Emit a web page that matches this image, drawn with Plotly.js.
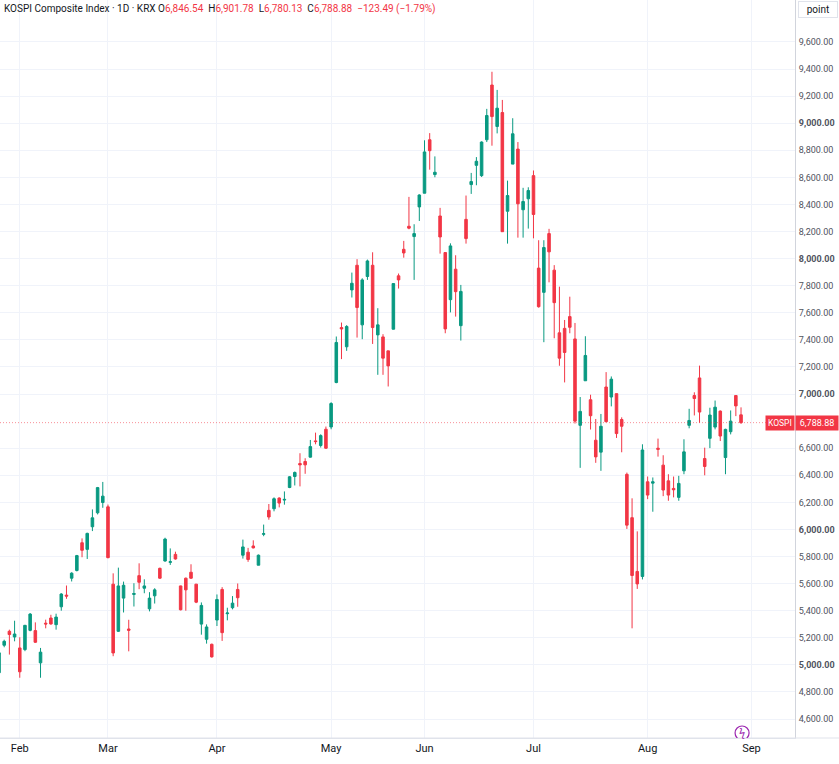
<!DOCTYPE html>
<html>
<head>
<meta charset="utf-8">
<script src="https://cdn.plot.ly/plotly-3.0.1.min.js"></script>
<style>
  html, body { margin: 0; padding: 0; background: #fff; }
  #chart { width: 839px; height: 764px; }
</style>
</head>
<body>
<div id="chart"></div>
<script>
// KOSPI 1D candles, last days of Jan to end of Aug
const opens = [
  4942, 5145, 5248, 5206, 5125, 5113, 5255, 5253, 5015, 5308,
  5346, 5297, 5429, 5515, 5640, 5697, 5902, 5853, 6020, 6123,
  6199, 6167, 5596, 5248, 5493, 5265, 5520, 5659, 5566, 5414,
  5510, 5713, 5767, 5757, 5816, 5583, 5640, 5684, 5596, 5301,
  5189, 5152, 5331, 5557, 5378, 5422, 5557, 5810, 5832, 5878,
  5736, 5964, 6141, 6153, 6232, 6217, 6310, 6391, 6487, 6502,
  6534, 6654, 6620, 6740, 6757, 7085, 7491, 7349, 7769, 7951,
  7511, 7868, 7951, 7437, 7422, 7319, 7479, 7873, 8069, 8239,
  8163, 8382, 8483, 8878, 8621, 8315, 8045, 7697, 7922, 7505,
  8290, 8547, 8689, 8613, 8878, 9282, 8976, 9079, 8350, 8698,
  8809, 8361, 8442, 8613, 7930, 7751, 8185, 7915, 7452, 7485,
  7572, 7407, 6769, 7098, 6958, 6659, 6571, 7052, 6978, 7003,
  6812, 6407, 6087, 5690, 5653, 6352, 6342, 6600, 6475, 6359,
  6303, 6237, 6433, 6769, 6989, 7119, 6524, 6673, 6756, 6874,
  6531, 6722, 6989, 6846.54
];
const highs = [
  5095, 5186, 5260, 5326, 5204, 5295, 5383, 5314, 5125, 5334,
  5370, 5378, 5530, 5586, 5684, 5812, 5934, 5976, 6148, 6314,
  6351, 6184, 5676, 5718, 5615, 5333, 5603, 5750, 5632, 5537,
  5566, 5718, 5939, 5860, 5836, 5585, 5645, 5743, 5598, 5461,
  5299, 5157, 5520, 5574, 5422, 5508, 5601, 5925, 5864, 5920,
  5815, 6036, 6188, 6237, 6237, 6281, 6394, 6428, 6563, 6526,
  6661, 6715, 6703, 6760, 6940, 7425, 7528, 7509, 7897, 7996,
  7855, 7993, 8047, 7634, 7442, 7319, 7818, 7890, 8131, 8456,
  8254, 8475, 8874, 8927, 8755, 8375, 8045, 8113, 8025, 7806,
  8466, 8633, 8750, 8866, 9106, 9380, 9246, 9172, 8576, 9037,
  8861, 8523, 8527, 8651, 8136, 8136, 8220, 7952, 7793, 7547,
  7719, 7525, 6978, 7427, 6995, 6816, 6853, 7162, 7130, 7003,
  6828, 6420, 6230, 5986, 6629, 6391, 6384, 6671, 6548, 6408,
  6391, 6396, 6666, 6891, 7013, 7210, 6604, 6899, 6952, 6879,
  6744, 6879, 6989, 6901.78
];
const lows = [
  4930, 5130, 5076, 5174, 4905, 5101, 5248, 5162, 4905, 5270,
  5297, 5260, 5400, 5488, 5616, 5690, 5795, 5782, 5988, 6111,
  6160, 5787, 5064, 5243, 5387, 5100, 5431, 5559, 5529, 5395,
  5453, 5635, 5762, 5738, 5777, 5402, 5400, 5635, 5456, 5223,
  5157, 5054, 5287, 5177, 5329, 5410, 5429, 5785, 5761, 5860,
  5736, 5950, 6072, 6134, 6163, 6183, 6305, 6325, 6318, 6411,
  6531, 6629, 6605, 6595, 6740, 7080, 7258, 7319, 7713, 7417,
  7405, 7843, 7370, 7142, 7142, 7056, 7477, 7779, 8007, 8217,
  7843, 8278, 8483, 8657, 8601, 8037, 7449, 7603, 7572, 7395,
  8111, 8478, 8542, 8603, 8861, 8834, 8925, 8199, 8111, 8698,
  8155, 8155, 8222, 8150, 7638, 7383, 7825, 7412, 7209, 7086,
  7449, 6782, 6455, 7098, 6738, 6492, 6433, 6791, 6909, 6676,
  6570, 6004, 5270, 5561, 5631, 6224, 6131, 6538, 6246, 6212,
  6237, 6212, 6408, 6747, 6842, 6788, 6400, 6601, 6739, 6653,
  6408, 6702, 6837, 6780.13
];
const closes = [
  5089, 5174, 5224, 5228, 4949, 5292, 5375, 5167, 5094, 5302,
  5302, 5353, 5523, 5508, 5677, 5807, 5846, 5971, 6086, 6309,
  6246, 5792, 5088, 5583, 5588, 5255, 5527, 5610, 5583, 5493,
  5554, 5640, 5929, 5762, 5782, 5407, 5554, 5640, 5463, 5439,
  5280, 5059, 5483, 5238, 5383, 5456, 5496, 5871, 5778, 5864,
  5810, 5969, 6092, 6227, 6195, 6222, 6389, 6421, 6477, 6477,
  6612, 6649, 6693, 6600, 6930, 7381, 7481, 7499, 7818, 7639,
  7843, 7983, 7491, 7511, 7265, 7208, 7816, 7843, 8042, 8225,
  8185, 8470, 8788, 8797, 8638, 8160, 7481, 8094, 7756, 7758,
  8148, 8569, 8719, 8861, 9057, 9049, 9111, 8199, 8466, 8922,
  8405, 8422, 8503, 8326, 7645, 8082, 8050, 7675, 7265, 7307,
  7493, 6800, 6872, 7285, 6840, 6536, 6762, 6796, 7110, 6708,
  6762, 6032, 5660, 5598, 6587, 6254, 6352, 6592, 6291, 6254,
  6293, 6340, 6573, 6805, 6967, 6867, 6465, 6845, 6903, 6690,
  6739, 6800, 6912.37, 6788.88
];

const monthLabels = ['Feb', 'Mar', 'Apr', 'May', 'Jun', 'Jul', 'Aug', 'Sep'];
const monthStarts = [4, 21, 42, 64, 82, 103, 125, 145]; // bar index of first session
// 6,800 is hidden behind the last-price tag, so it is left out
const priceTicks = [4600, 4800, 5000, 5200, 5400, 5600, 5800, 6000, 6200, 6400, 6600,
  7000, 7200, 7400, 7600, 7800, 8000, 8200, 8400, 8600, 8800, 9000, 9200, 9400, 9600];

const UP = '#089981', DOWN = '#f23645', TXT = '#131722';
const fmt = v => v.toLocaleString('en-US', { minimumFractionDigits: 2, maximumFractionDigits: 2 });

const bars = opens.map((_, i) => i);
const n = closes.length;
const last = { o: opens[n - 1], h: highs[n - 1], l: lows[n - 1], c: closes[n - 1] };
const chg = last.c - closes[n - 2];
const pct = chg / closes[n - 2] * 100;
const sgn = v => (v < 0 ? '\u2212' : '+') + fmt(Math.abs(v));

const red = s => `<span style="color:${DOWN}">${s}</span>`;
const gap = '&nbsp;&nbsp;';
const header = `KOSPI Composite Index · 1D · KRX&nbsp;O${red(fmt(last.o))}${gap}H${red(fmt(last.h))}` +
  `${gap}L${red(fmt(last.l))}${gap}C${red(fmt(last.c))}${gap}` +
  red(`${sgn(chg)} (${sgn(pct)}%)`);

const trace = {
  type: 'candlestick', x: bars, open: opens, high: highs, low: lows, close: closes,
  increasing: { line: { color: UP, width: 1 }, fillcolor: UP },
  decreasing: { line: { color: DOWN, width: 1 }, fillcolor: DOWN },
  whiskerwidth: 0, hoverinfo: 'skip'
};

const layout = {
  width: 839, height: 764,
  margin: { l: 0, r: 44, t: 0, b: 26 },
  paper_bgcolor: '#fff', plot_bgcolor: '#fff',
  font: { family: 'Roboto, "Noto Sans", sans-serif', size: 10, color: TXT },
  showlegend: false, hovermode: false,
  xaxis: {
    range: [0.19, 153.4], rangeslider: { visible: false },
    tickvals: monthStarts, ticktext: monthLabels, ticks: '',
    showgrid: true, gridcolor: '#f0f3fa', zeroline: false,
    showline: true, linecolor: '#e0e3eb', tickfont: { size: 11, color: TXT }
  },
  yaxis: {
    side: 'right', range: [4460, 9910],
    tickvals: priceTicks,
    ticktext: priceTicks.map(v => v % 1000 === 0 ? `<b>${fmt(v)}</b>` : fmt(v)),
    ticks: '', ticklabelstandoff: 1,
    showgrid: true, gridcolor: '#f0f3fa', zeroline: false,
    showline: true, linecolor: '#d1d4dc', tickfont: { size: 9, color: '#50535e' }
  },
  shapes: [
    { type: 'line', xref: 'paper', x0: 0, x1: 0.965, yref: 'y', y0: last.c, y1: last.c,
      line: { color: 'rgba(242,54,69,0.55)', width: 1, dash: '1px,2px' } },
    { type: 'line', xref: 'paper', x0: 0, x1: 1.06, yref: 'paper', y0: 0, y1: 0,
      line: { color: '#e0e3eb', width: 1 } },
    { type: 'circle', xref: 'x', yref: 'y', xsizemode: 'pixel', ysizemode: 'pixel',
      xanchor: 143.2, yanchor: 4497, x0: -7, x1: 7, y0: -7, y1: 7,
      line: { color: '#9c27b0', width: 1.2 }, fillcolor: 'rgba(0,0,0,0)' }
  ],
  annotations: [
    { xref: 'paper', yref: 'paper', x: 0, y: 1, xanchor: 'left', yanchor: 'top', xshift: 2, yshift: -1,
      text: header, showarrow: false, align: 'left', font: { size: 10, color: TXT } },
    { xref: 'paper', yref: 'paper', x: 1, y: 1, xanchor: 'left', yanchor: 'top', xshift: 3, yshift: -1,
      text: 'point', showarrow: false, width: 34, borderpad: 2, bordercolor: '#e0e3eb', borderwidth: 1,
      font: { size: 10, color: TXT } },
    { xref: 'paper', yref: 'y', x: 1, y: last.c, xanchor: 'right', yanchor: 'middle',
      text: 'KOSPI', showarrow: false, bgcolor: DOWN, borderpad: 2, font: { size: 8.5, color: '#fff' } },
    { xref: 'paper', yref: 'y', x: 1, y: last.c, xanchor: 'left', yanchor: 'middle',
      text: fmt(last.c), showarrow: false, bgcolor: DOWN, borderpad: 2, width: 38,
      font: { size: 9, color: '#fff' } },
    { xref: 'x', yref: 'y', x: 143.2, y: 4497, text: '\u03DF', showarrow: false,
      font: { size: 11, color: '#9c27b0' } }
  ]
};

Plotly.newPlot('chart', [trace], layout, { displayModeBar: false, staticPlot: true });
</script>
</body>
</html>
